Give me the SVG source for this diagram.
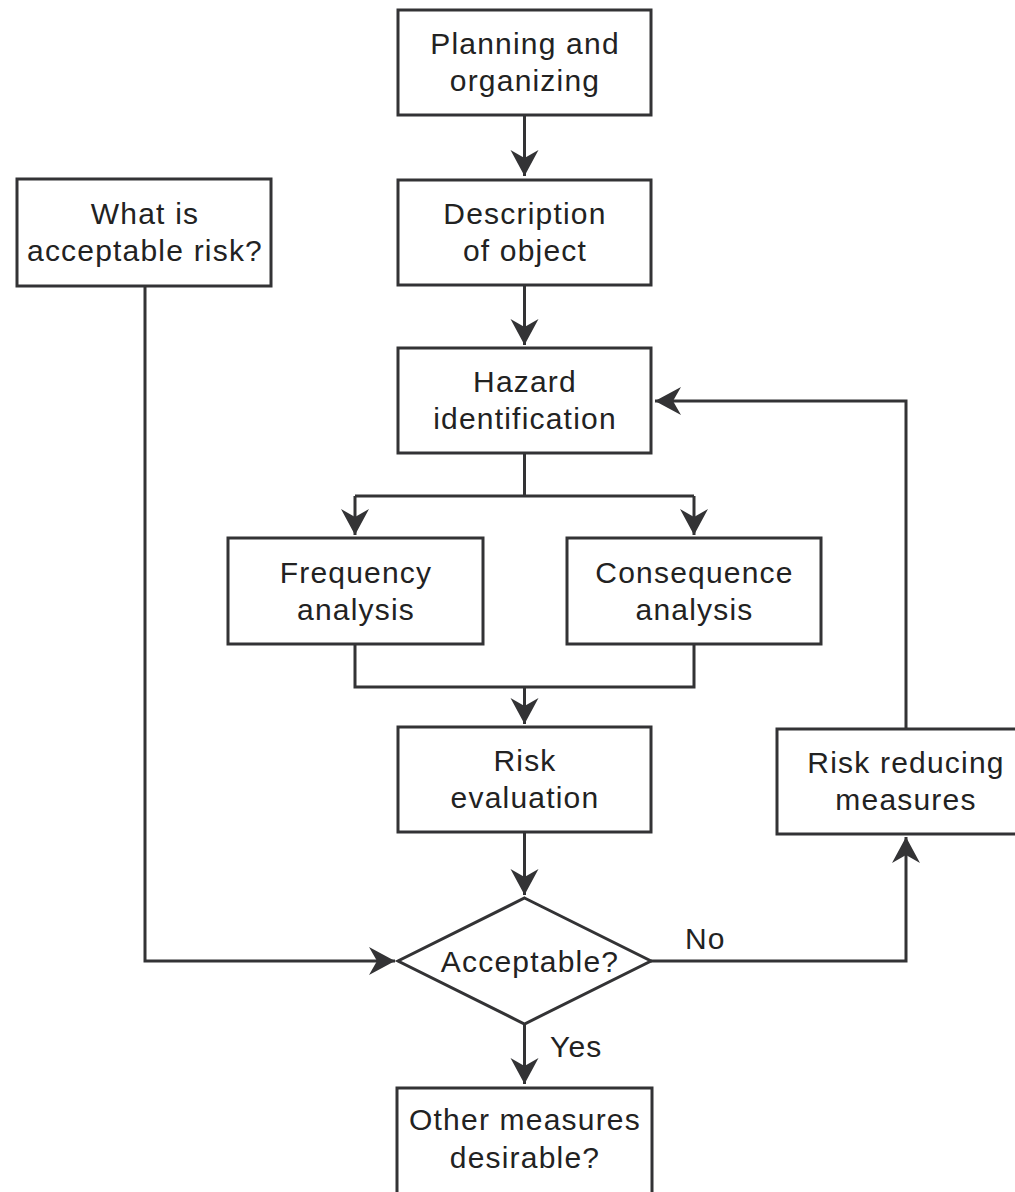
<svg xmlns="http://www.w3.org/2000/svg" width="1015" height="1192" viewBox="0 0 1015 1192">
  <style>
    .box { fill: #fff; stroke: #333335; stroke-width: 3; }
    .line { fill: none; stroke: #333335; stroke-width: 3; }
    .arrow { fill: none; stroke: #333335; stroke-width: 3; marker-end: url(#head); }
    text { font-family: "Liberation Sans", Arial, sans-serif; font-size: 30px; letter-spacing: 1.2px; fill: #222; text-anchor: middle; }
    .lbl { text-anchor: start; }
  </style>
  <defs>
    <marker id="head" markerUnits="userSpaceOnUse" markerWidth="32" markerHeight="32" viewBox="-28 -16 30 32" refX="0" refY="0" orient="auto">
      <path d="M0,0 L-26,-14 L-18,0 L-26,14 Z" fill="#333335"/>
    </marker>
  </defs>
  <rect width="1015" height="1192" fill="#fff"/>

  <g id="connectors">
    <!-- main column -->
    <path class="arrow" d="M524.5,115 V176"/>
    <path class="arrow" d="M524.5,285 V345"/>
    <!-- split to the two analyses -->
    <path class="line" d="M524.5,453 V496 M355,496 H694"/>
    <path class="arrow" d="M355,496 V535"/>
    <path class="arrow" d="M694,496 V535"/>
    <!-- merge into risk evaluation -->
    <path class="line" d="M355,644 V687 H694 V644"/>
    <path class="arrow" d="M524.5,687 V724"/>
    <path class="arrow" d="M524.5,832 V895"/>
    <!-- acceptable risk criterion into decision -->
    <path class="arrow" d="M145,286 V961 H395"/>
    <!-- No branch: back to hazard identification -->
    <path class="arrow" d="M651,961 H906 V837"/>
    <path class="arrow" d="M906,729 V401 H655"/>
    <!-- Yes branch -->
    <path class="arrow" d="M524.5,1024 V1084"/>
    <text class="lbl" x="685" y="949">No</text>
    <text class="lbl" x="550" y="1057">Yes</text>
  </g>

  <g id="planning">
    <rect class="box" x="398" y="10" width="253" height="105"/>
    <text x="525" y="54">Planning and</text>
    <text x="525" y="91">organizing</text>
  </g>
  <g id="description">
    <rect class="box" x="398" y="180" width="253" height="105"/>
    <text x="525" y="224">Description</text>
    <text x="525" y="261">of object</text>
  </g>
  <g id="hazard">
    <rect class="box" x="398" y="348" width="253" height="105"/>
    <text x="525" y="392">Hazard</text>
    <text x="525" y="429">identification</text>
  </g>
  <g id="acceptable-risk">
    <rect class="box" x="17" y="179" width="254" height="107"/>
    <text x="145" y="224">What is</text>
    <text x="145" y="261">acceptable risk?</text>
  </g>
  <g id="frequency">
    <rect class="box" x="228" y="538" width="255" height="106"/>
    <text x="356" y="583">Frequency</text>
    <text x="356" y="620">analysis</text>
  </g>
  <g id="consequence">
    <rect class="box" x="567" y="538" width="254" height="106"/>
    <text x="694.5" y="583">Consequence</text>
    <text x="694.5" y="620">analysis</text>
  </g>
  <g id="risk-evaluation">
    <rect class="box" x="398" y="727" width="253" height="105"/>
    <text x="525" y="771">Risk</text>
    <text x="525" y="808">evaluation</text>
  </g>
  <g id="risk-reducing">
    <rect class="box" x="777" y="729" width="260" height="105"/>
    <text x="906" y="773">Risk reducing</text>
    <text x="906" y="810">measures</text>
  </g>
  <g id="decision">
    <polygon class="box" points="524.5,898 651,961 524.5,1024 398,961"/>
    <text x="530" y="972">Acceptable?</text>
  </g>
  <g id="other-measures">
    <rect class="box" x="397" y="1088" width="255" height="120"/>
    <text x="525" y="1130">Other measures</text>
    <text x="525" y="1168">desirable?</text>
  </g>
</svg>
